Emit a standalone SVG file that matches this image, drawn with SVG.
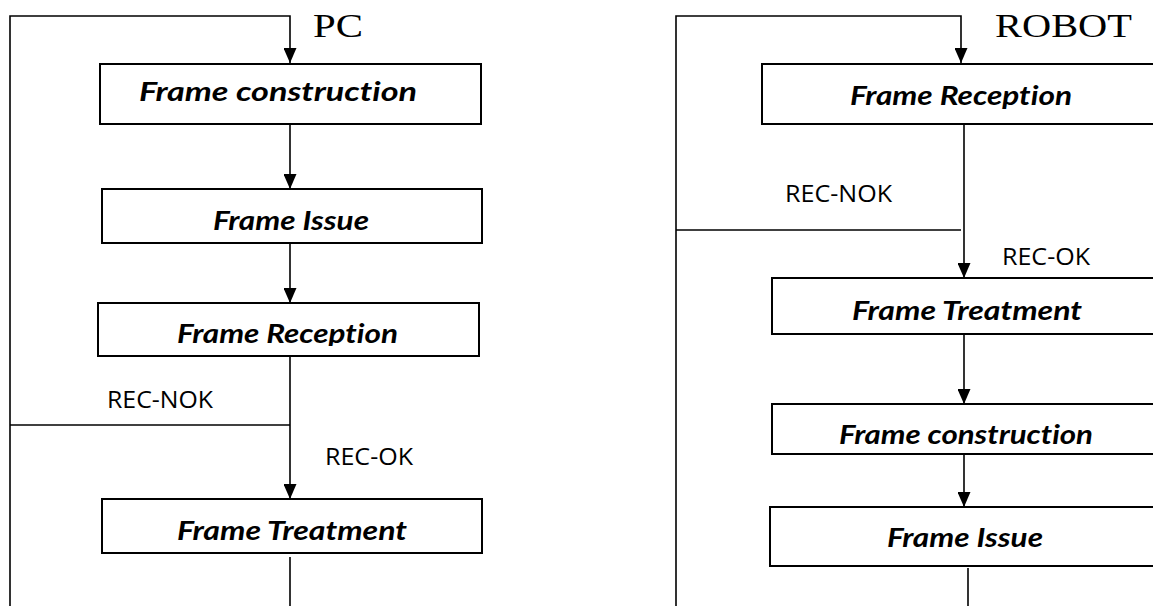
<svg xmlns="http://www.w3.org/2000/svg" width="1153" height="606" viewBox="0 0 1153 606">
  <style>
    .box { fill: #ffffff; stroke: #000000; stroke-width: 2; }
    .step { font-family: Lato, "Open Sans", "Liberation Sans", sans-serif; font-weight: bold; font-style: italic; font-size: 27px; font-variant-ligatures: none; fill: #000000; }
    .cond { font-family: "Open Sans", "Liberation Sans", sans-serif; font-size: 23px; fill: #000000; }
    .title { font-family: "Liberation Serif", "DejaVu Serif", serif; font-size: 33px; fill: #000000; }
    .wire { fill: none; stroke: #000000; stroke-width: 1.6; }
  </style>
  <defs>
    <!-- filled triangular head, tip on the end of the line -->
    <marker id="arrow" viewBox="0 0 15 13" refX="15" refY="6.5" markerWidth="15" markerHeight="13" markerUnits="userSpaceOnUse" orient="auto">
      <path d="M0,0 L15,6.5 L0,13 Z" fill="#000000"/>
    </marker>
    <clipPath id="clipPcReception"><rect x="98" y="303" width="382" height="43"/></clipPath>
    <clipPath id="clipRobotConstruction"><rect x="772" y="404" width="400" height="41"/></clipPath>
  </defs>
  <rect width="1153" height="606" fill="#ffffff"/>

  <!-- PC column -->
  <text class="title" x="313" y="37" textLength="50" lengthAdjust="spacingAndGlyphs">PC</text>

  <g id="connectors-pc">
    <path class="wire" d="M10,606 V16 H290 V63" marker-end="url(#arrow)"/>
    <path class="wire" d="M290,124 V189" marker-end="url(#arrow)"/>
    <path class="wire" d="M290,243 V303" marker-end="url(#arrow)"/>
    <path class="wire" d="M290,356 V499" marker-end="url(#arrow)"/>
    <path class="wire" d="M10,425 H290"/>
    <path class="wire" d="M290,557 V606"/>
    <text class="cond" x="107" y="408" textLength="106" lengthAdjust="spacingAndGlyphs">REC-NOK</text>
    <text class="cond" x="325" y="465" textLength="88" lengthAdjust="spacingAndGlyphs">REC-OK</text>
  </g>

  <g id="pc-frame-construction">
    <rect class="box" x="100" y="64" width="381" height="60"/>
    <text class="step" x="139" y="101" textLength="278" lengthAdjust="spacingAndGlyphs">Frame construction</text>
  </g>
  <g id="pc-frame-issue">
    <rect class="box" x="102" y="189" width="380" height="54"/>
    <text class="step" x="213" y="230" textLength="156" lengthAdjust="spacingAndGlyphs">Frame Issue</text>
  </g>
  <g id="pc-frame-reception">
    <rect class="box" x="98" y="303" width="381" height="53"/>
    <text class="step" x="177" y="343" textLength="221" lengthAdjust="spacingAndGlyphs" clip-path="url(#clipPcReception)">Frame Reception</text>
  </g>
  <g id="pc-frame-treatment">
    <rect class="box" x="102" y="499" width="380" height="54"/>
    <text class="step" x="177" y="540" textLength="230" lengthAdjust="spacingAndGlyphs">Frame Treatment</text>
  </g>

  <!-- ROBOT column -->
  <text class="title" x="995" y="37" textLength="137" lengthAdjust="spacingAndGlyphs">ROBOT</text>

  <g id="connectors-robot">
    <path class="wire" d="M676,606 V16 H961 V63" marker-end="url(#arrow)"/>
    <path class="wire" d="M964,124 V278" marker-end="url(#arrow)"/>
    <path class="wire" d="M676,230 H961"/>
    <path class="wire" d="M964,334 V404" marker-end="url(#arrow)"/>
    <path class="wire" d="M964,454 V507" marker-end="url(#arrow)"/>
    <path class="wire" d="M968,568 V606"/>
    <text class="cond" x="785" y="202" textLength="107" lengthAdjust="spacingAndGlyphs">REC-NOK</text>
    <text class="cond" x="1002" y="265" textLength="88" lengthAdjust="spacingAndGlyphs">REC-OK</text>
  </g>

  <g id="robot-frame-reception">
    <rect class="box" x="762" y="64" width="420" height="60"/>
    <text class="step" x="850" y="105" textLength="222" lengthAdjust="spacingAndGlyphs">Frame Reception</text>
  </g>
  <g id="robot-frame-treatment">
    <rect class="box" x="772" y="278" width="420" height="56"/>
    <text class="step" x="852" y="320" textLength="230" lengthAdjust="spacingAndGlyphs">Frame Treatment</text>
  </g>
  <g id="robot-frame-construction">
    <rect class="box" x="772" y="404" width="420" height="50"/>
    <text class="step" x="839" y="444" textLength="254" lengthAdjust="spacingAndGlyphs" clip-path="url(#clipRobotConstruction)">Frame construction</text>
  </g>
  <g id="robot-frame-issue">
    <rect class="box" x="770" y="507" width="420" height="59"/>
    <text class="step" x="887" y="547" textLength="156" lengthAdjust="spacingAndGlyphs">Frame Issue</text>
  </g>
</svg>
